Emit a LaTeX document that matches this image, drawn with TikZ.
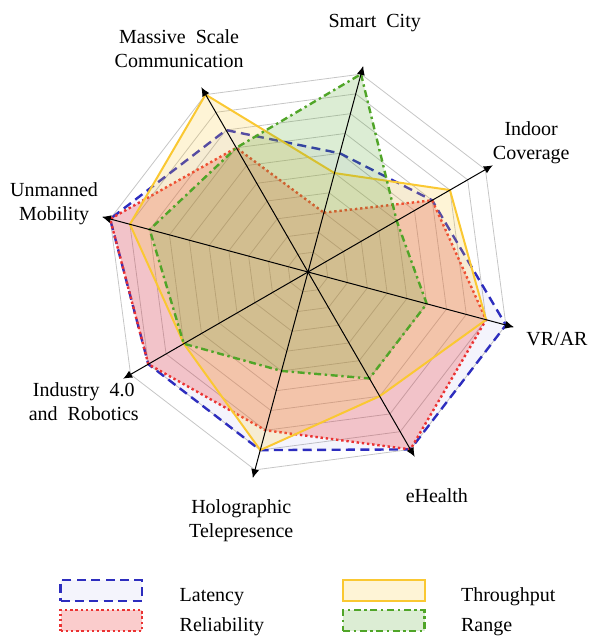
\documentclass[tikz,border=0pt]{standalone}
\usepackage{fontspec}
\setmainfont{Liberation Serif}[WordSpace=2]
\usetikzlibrary{arrows.meta, positioning}
\usepackage{xcolor}

\definecolor{latcol}{RGB}{45,45,190}
\definecolor{relcol}{RGB}{235,50,50}
\definecolor{thrcol}{RGB}{250,200,50}
\definecolor{rngcol}{RGB}{80,165,40}

\newcommand{\st}{0.36}

\tikzset{
    grid line/.style={gray!45, line width=0.4pt},
    axis line/.style={black, line width=0.5pt, -{Latex[length=4.5pt,width=4pt]}},
    lbl/.style={align=center, inner sep=1pt},
    latency/.style={draw=latcol, fill=latcol, fill opacity=0.05, line width=1.2pt, dash pattern=on 4.5pt off 2.7pt},
    reliability/.style={draw=relcol, fill=relcol, fill opacity=0.25, line width=1.2pt, dash pattern=on 1.2pt off 1.4pt},
    throughput/.style={draw=thrcol, fill=thrcol, fill opacity=0.2, line width=1pt},
    rangeline/.style={draw=rngcol, fill=rngcol, fill opacity=0.2, line width=1.2pt, dash pattern=on 3.5pt off 1.8pt on 1.2pt off 1.8pt},
    legbox/.style={minimum width=1.434cm, minimum height=0.36cm, inner sep=0pt},
    legtxt/.style={anchor=base west, inner sep=0pt}
}

\begin{document}
\begin{tikzpicture}
    \useasboundingbox (-5.4125,-6.4317) rectangle (4.9556,4.780);

    % grid
    \foreach \k in {1,...,10}
        \draw[grid line] (75:\k*\st) -- (30:\k*\st) -- (-15:\k*\st) -- (-60:\k*\st) -- (-105:\k*\st) -- (-150:\k*\st) -- (165:\k*\st) -- (120:\k*\st) -- cycle;

    % data
    \draw[latency] (75:6*\st) -- (30:7*\st) -- (-15:10*\st) -- (-60:10*\st) -- (-105:9*\st) -- (-150:9*\st) -- (165:10*\st) -- (120:8*\st) -- cycle;
    \draw[reliability] (75:3*\st) -- (30:7*\st) -- (-15:9*\st) -- (-60:10*\st) -- (-105:8*\st) -- (-150:9*\st) -- (165:10*\st) -- (120:7*\st) -- cycle;
    \draw[throughput] (75:5*\st) -- (30:8*\st) -- (-15:9*\st) -- (-60:7*\st) -- (-105:9*\st) -- (-150:7*\st) -- (165:9*\st) -- (120:10*\st) -- cycle;
    \draw[rangeline] (75:10*\st) -- (30:5*\st) -- (-15:6*\st) -- (-60:6*\st) -- (-105:5*\st) -- (-150:7*\st) -- (165:8*\st) -- (120:7*\st) -- cycle;

    % axes
    \coordinate (o) at (0,0);
    \foreach \a in {75,30,...,-240}
        \draw[axis line] (o) -- (\a:3.75);

    % labels
    \node[lbl] (city) at (75:4.53) {Smart City};
    \node[lbl] (indoor) at (30:4.53) {Indoor\\Coverage};
    \node[lbl] (vrar) at (-15:4.53) {VR/AR};
    \node[lbl] (ehealth) at (-60:4.53) {eHealth};
    \node[lbl] (holo) at (-105:4.53) {Holographic\\Telepresence};
    \node[lbl] (industry) at (-150:4.55) {Industry 4.0\\and Robotics};
    \node[lbl] (mobility) at (165:4.62) {Unmanned\\Mobility};
    \node[lbl] (massive) at (120:4.53) {Massive Scale\\Communication};

    % legend
    \node[legbox, latency] (latbox) at (-3.632,-5.597) {};
    \node[legbox, reliability] (relbox) at (-3.632,-6.124) {};
    \node[legbox, throughput] (thrbox) at (1.333,-5.597) {};
    \node[legbox, rangeline] (rngbox) at (1.333,-6.124) {};
    \node[legtxt] (lattxt) at (-2.262,-5.794) {Latency};
    \node[legtxt] (reltxt) at (-2.262,-6.321) {Reliability};
    \node[legtxt] (thrtxt) at (2.683,-5.794) {Throughput};
    \node[legtxt] (rngtxt) at (2.683,-6.321) {Range};
\end{tikzpicture}
\end{document}
